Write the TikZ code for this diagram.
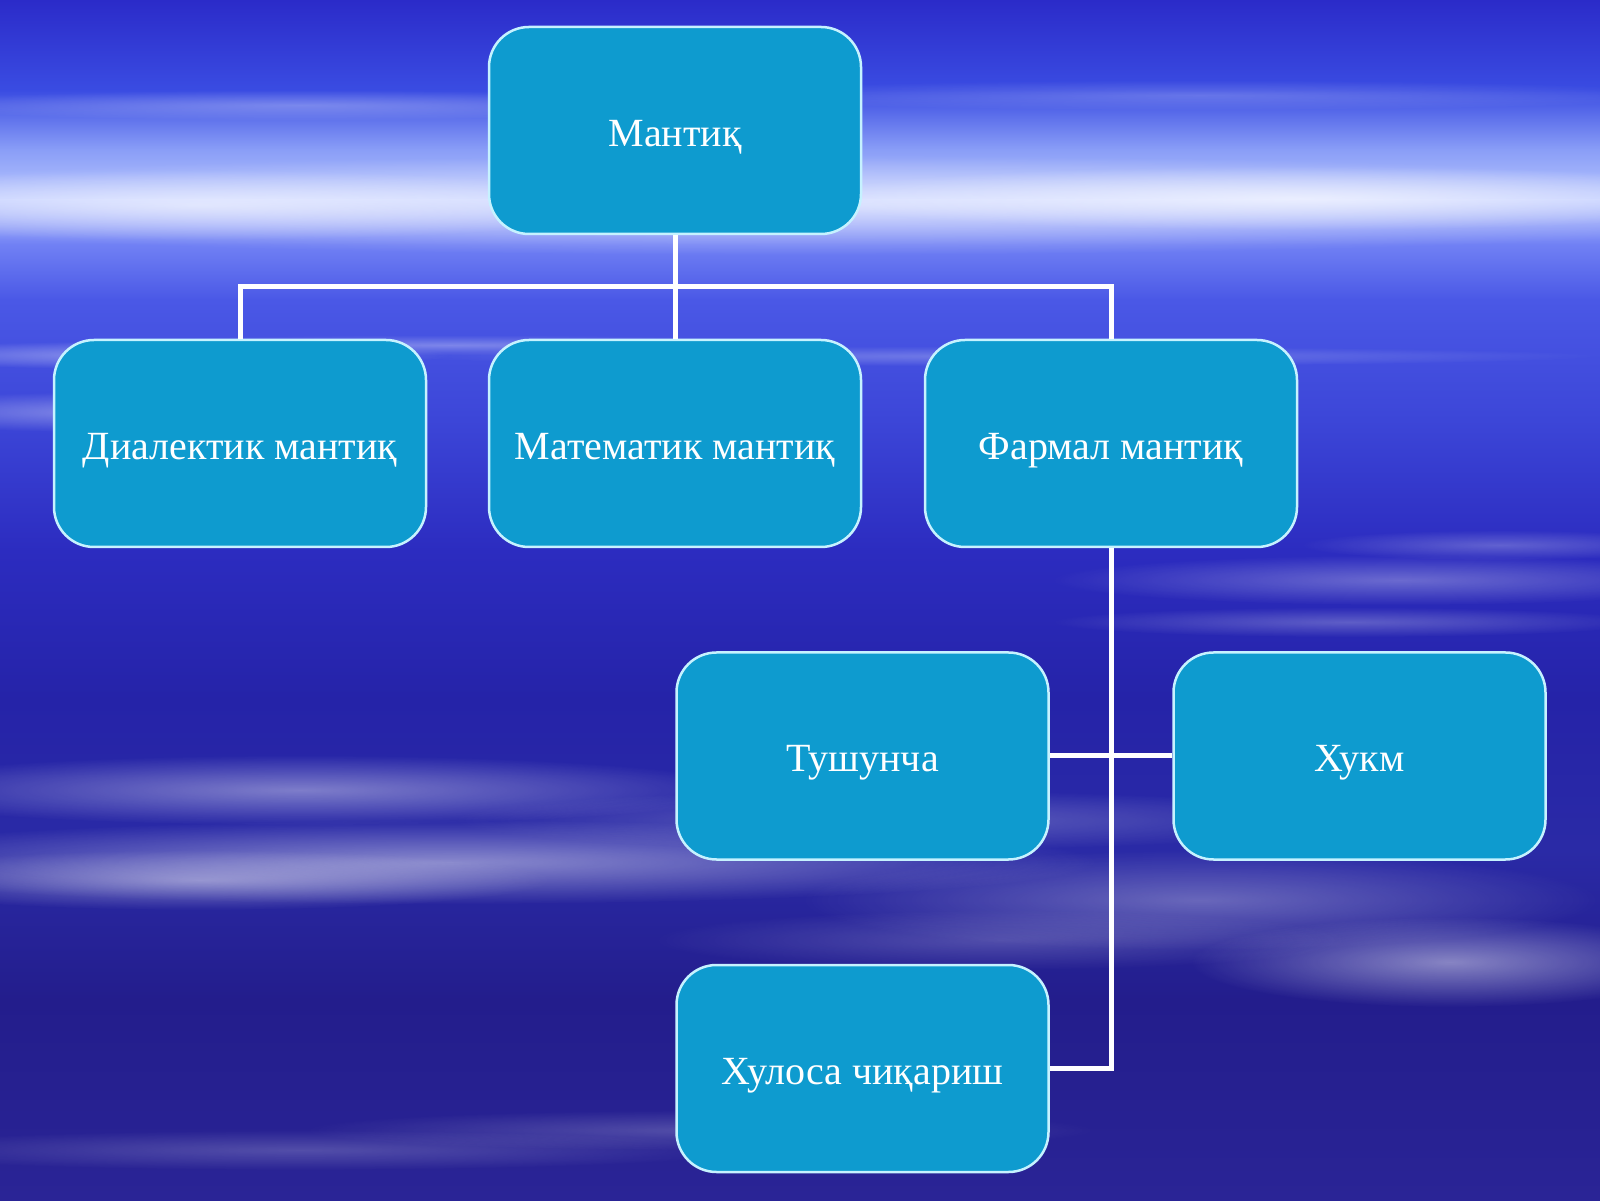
\documentclass[tikz,border=0pt]{standalone}
\usepackage{fontspec}
\setmainfont{Liberation Serif}
\usetikzlibrary{fadings}
\tikzfading[name=softedge, inner color=transparent!0, outer color=transparent!100]
\definecolor{boxfill}{HTML}{0E9BCF}
\definecolor{boxedge}{HTML}{C6F2FF}
\definecolor{cA}{HTML}{2B2BC9}
\definecolor{cB}{HTML}{3A4CE2}
\definecolor{cC}{HTML}{8A9EF7}
\definecolor{cD}{HTML}{B8C6FF}
\definecolor{cE}{HTML}{7080F4}
\definecolor{cF}{HTML}{4A58E6}
\definecolor{cG}{HTML}{3C46D8}
\definecolor{cH}{HTML}{2C2CC0}
\definecolor{cI}{HTML}{2523A8}
\definecolor{cJ}{HTML}{2A2AA6}
\definecolor{cK}{HTML}{231D8C}
\definecolor{cL}{HTML}{2A2496}
\newcommand{\streak}[5]{\fill[white, opacity=#5, path fading=softedge] (#1,{1200-#2}) ellipse ({#3} and {#4});}
\tikzset{
  chartbox/.style={draw=boxedge, line width=2.5pt, fill=boxfill, rounded corners=40pt,
    minimum width=372pt, minimum height=207pt, inner sep=0pt, text=white,
    font=\fontsize{40}{46}\selectfont, text height=31.5pt, text depth=0pt},
  link/.style={draw=white, line width=5pt}
}
\begin{document}
\begin{tikzpicture}[x=1pt,y=1pt]
\useasboundingbox (0,0) rectangle (1600,1200);
% background gradient
\shade[top color=cA, bottom color=cB] (0,1200) rectangle (1600,1110);
\shade[top color=cB, bottom color=cC] (0,1110) rectangle (1600,1050);
\shade[top color=cC, bottom color=cD] (0,1050) rectangle (1600,1000);
\shade[top color=cD, bottom color=cE] (0,1000) rectangle (1600,955);
\shade[top color=cE, bottom color=cF] (0,955) rectangle (1600,900);
\shade[top color=cF, bottom color=cG] (0,900) rectangle (1600,780);
\shade[top color=cG, bottom color=cH] (0,780) rectangle (1600,650);
\shade[top color=cH, bottom color=cI] (0,650) rectangle (1600,500);
\shade[top color=cI, bottom color=cJ] (0,500) rectangle (1600,350);
\shade[top color=cJ, bottom color=cK] (0,350) rectangle (1600,200);
\shade[top color=cK, bottom color=cL] (0,200) rectangle (1600,0);
% streaks
\streak{800}{205}{1100}{50}{0.55}
\streak{200}{205}{450}{35}{0.5}
\streak{1300}{198}{500}{32}{0.6}
\streak{300}{105}{400}{15}{0.25}
\streak{1200}{95}{500}{15}{0.2}
\streak{150}{355}{300}{14}{0.4}
\streak{450}{345}{400}{10}{0.3}
\streak{100}{412}{250}{20}{0.35}
\streak{1000}{356}{600}{10}{0.25}
\streak{1400}{580}{350}{25}{0.3}
\streak{1350}{622}{300}{15}{0.25}
\streak{1500}{545}{200}{15}{0.25}
\streak{300}{790}{450}{35}{0.4}
\streak{450}{862}{650}{42}{0.45}
\streak{200}{880}{350}{30}{0.4}
\streak{900}{820}{450}{30}{0.25}
\streak{1200}{900}{400}{50}{0.3}
\streak{1450}{962}{260}{45}{0.45}
\streak{1000}{940}{350}{30}{0.2}
\streak{300}{1150}{450}{20}{0.2}
\streak{700}{1130}{400}{20}{0.2}
% nodes
\node[chartbox] (top) at (675,1069.5) {Мантиқ};
\node[chartbox] (dia) at (240,756.5) {Диалектик мантиқ};
\node[chartbox] (mat) at (675,756.5) {Математик мантиқ};
\node[chartbox] (far) at (1111,756.5) {Фармал мантиқ};
\node[chartbox] (tus) at (862.5,444) {Тушунча};
\node[chartbox] (huk) at (1359.5,444) {Хукм};
\node[chartbox] (hul) at (862.5,131.5) {Хулоса чиқариш};
\coordinate (bus) at (675,913);
% connectors
\draw[link] (top.south) -- (mat.north);
\draw[link] (top.south |- bus) -| (dia.north);
\draw[link] (top.south |- bus) -| (far.north);
\draw[link] (far.south) |- (hul.east);
\draw[link] (tus.east) -- (huk.west);
\end{tikzpicture}
\end{document}
